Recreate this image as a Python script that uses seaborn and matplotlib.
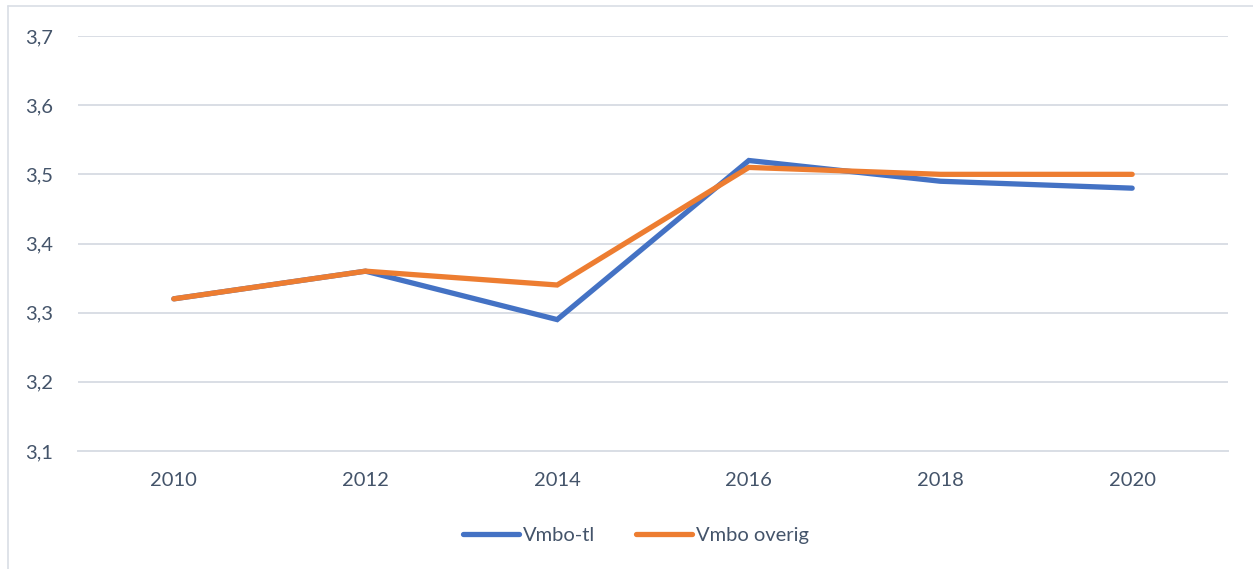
import pandas as pd
import matplotlib.pyplot as plt
import seaborn as sns
from matplotlib.lines import Line2D

# Data
years = ['2010', '2012', '2014', '2016', '2018', '2020']
vmbo_tl = [3.32, 3.36, 3.29, 3.52, 3.49, 3.48]
vmbo_overig = [3.32, 3.36, 3.34, 3.51, 3.50, 3.50]
series_names = ['Vmbo-tl', 'Vmbo overig']
colors = ['#4472C4', '#ED7D31']
y_ticks = [3.1, 3.2, 3.3, 3.4, 3.5, 3.6, 3.7]

df = pd.DataFrame({
    'pos': list(range(len(years))) * 2,
    'score': vmbo_tl + vmbo_overig,
    'serie': [series_names[0]] * len(years) + [series_names[1]] * len(years),
})

sns.set_style('white')
plt.rcParams['font.family'] = ['Lato', 'DejaVu Sans']
text_color = '#44546A'
grid_color = '#D9DEE5'

fig = plt.figure(figsize=(12.53, 5.69), dpi=100)
ax = fig.add_axes([78 / 1253, 1 - 451 / 569, 1150 / 1253, 415 / 569])

sns.lineplot(data=df, x='pos', y='score', hue='serie', palette=colors,
             linewidth=3.8, ax=ax, legend=False, sort=False,
             solid_capstyle='round', solid_joinstyle='miter')

ax.set_xlim(-0.5, len(years) - 0.5)
ax.set_ylim(3.1, 3.7)
ax.set_yticks(y_ticks)
ax.set_yticklabels([f'{v:.1f}'.replace('.', ',') for v in y_ticks])
ax.set_xticks(range(len(years)))
ax.set_xticklabels(years)
ax.set_xticks([i - 0.5 for i in range(len(years) + 1)], minor=True)
ax.tick_params(axis='x', which='major', length=0, pad=15, labelsize=14.5, colors=text_color)
ax.tick_params(axis='x', which='minor', length=7, width=1.3, color=grid_color, direction='out')
ax.tick_params(axis='y', length=0, pad=18, labelsize=14.5, colors=text_color)
ax.set_xlabel('')
ax.set_ylabel('')

ax.yaxis.grid(True, color=grid_color, linewidth=1.4)
ax.set_axisbelow(True)
for side in ['top', 'right', 'left']:
    ax.spines[side].set_visible(False)
ax.spines['bottom'].set_color(grid_color)
ax.spines['bottom'].set_linewidth(1.4)
ax.spines['bottom'].set_zorder(0.5)

# outer chart border
fig.add_artist(Line2D([8 / 1253, 8 / 1253], [0, 1 - 6 / 569], transform=fig.transFigure,
                      color=grid_color, linewidth=1.2))
fig.add_artist(Line2D([8 / 1253, 1], [1 - 6 / 569, 1 - 6 / 569], transform=fig.transFigure,
                      color=grid_color, linewidth=1.2))

handles = [Line2D([0], [0], color=c, linewidth=3.8, solid_capstyle='round') for c in colors]
leg = fig.legend(handles, series_names, loc='center', bbox_to_anchor=(636 / 1253, 1 - 535 / 569),
                 ncol=2, frameon=False, fontsize=14.5, handlelength=2.8, handletextpad=0.2,
                 columnspacing=2.0)
for t in leg.get_texts():
    t.set_color(text_color)

fig.savefig('out.png', dpi=100)
